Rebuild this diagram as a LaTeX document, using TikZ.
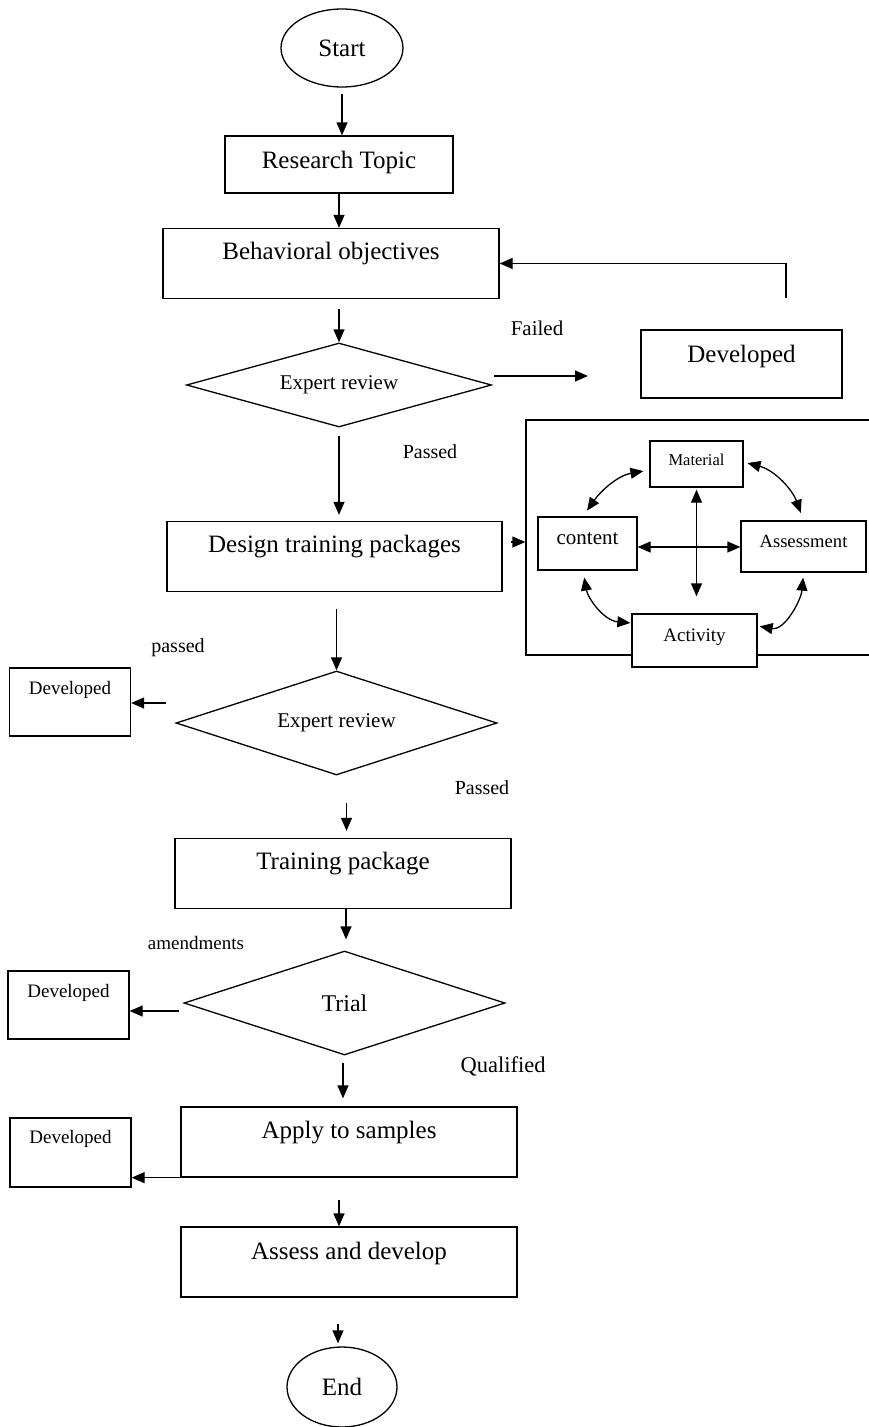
\documentclass[tikz,border=0pt]{standalone}
\usepackage{fontspec}
\setmainfont{Liberation Serif}
\usetikzlibrary{shapes.geometric,arrows.meta}

\newcommand{\fs}[1]{\fontsize{#1}{#1}\selectfont}

\begin{document}
\begin{tikzpicture}[x=1pt, y=1pt, line width=1.3pt,
  box/.style={draw, rectangle, fill=white, inner sep=0pt},
  bigbox/.style={box, font=\fs{25}, text height=31pt, text depth=39pt},
  smallbox/.style={box, font=\fs{19}, minimum width=121pt, text height=26pt, text depth=42pt},
  term/.style={draw, ellipse, inner sep=0pt, font=\fs{25}},
  decide/.style={draw, diamond, aspect=3, inner sep=0pt},
  lbl/.style={inner sep=0pt},
  arr/.style={-{Triangle[length=13pt,width=11pt]}},
  dbl/.style={{Triangle[length=13pt,width=11pt]}-{Triangle[length=13pt,width=11pt]}}]
\useasboundingbox (0,0) rectangle (869,-1427);

% Draw main column
\node[term, minimum width=122pt, minimum height=78pt] (start) at (342,-48) {Start};
\node[box, font=\fs{25}, minimum width=228pt, text height=32pt, text depth=25pt] (topic) at (339,-164.5) {Research Topic};
\node[bigbox, minimum width=336pt] (objectives) at (331,-263.5) {Behavioral objectives};
\node[decide, font=\fs{21}, minimum width=305pt, minimum height=84pt] (review1) at (339,-385) {Expert review};
\node[bigbox, minimum width=335pt] (design) at (334.5,-556.5) {Design training packages};
\node[decide, font=\fs{21}, minimum width=321pt, minimum height=104pt] (review2) at (336.5,-723) {Expert review};
\node[bigbox, minimum width=336pt] (package) at (343,-873.5) {Training package};
\node[decide, font=\fs{24}, minimum width=321pt, minimum height=104pt] (trial) at (344.5,-1003) {Trial};
\node[bigbox, minimum width=336pt] (apply) at (349,-1142) {Apply to samples};
\node[bigbox, minimum width=336pt, text height=32pt, text depth=38pt] (develop) at (349,-1262) {Assess and develop};
\node[term, minimum width=110pt, minimum height=80pt] (finish) at (342,-1387) {End};

% Draw side boxes
\node[box, font=\fs{25}, minimum width=201pt, text height=32pt, text depth=36pt] (dev1) at (741.5,-364) {Developed};
\node[smallbox] (dev2) at (70,-702) {Developed};
\node[smallbox] (dev3) at (68.5,-1005) {Developed};
\node[smallbox, text height=25pt, text depth=44pt] (dev4) at (70.5,-1152.5) {Developed};

% Draw package frame and its parts
\node[box, minimum width=360pt, minimum height=235pt] (pack) at (706,-537.5) {};
\node[box, font=\fs{16.5}, minimum width=93pt, text height=24.5pt, text depth=21.5pt] (material) at (696.5,-464) {Material};
\node[box, font=\fs{21}, minimum width=99pt, text height=27.7pt, text depth=25.3pt] (content) at (587.5,-543.5) {content};
\node[box, font=\fs{18.6}, minimum width=125pt, text height=26.5pt, text depth=24.5pt] (assessment) at (803.5,-546.5) {Assessment};
\node[box, font=\fs{19}, minimum width=125pt, text height=27pt, text depth=26pt] (activity) at (694.5,-640.5) {Activity};

% Labels
\node[lbl, font=\fs{21}] (failed) at (537,-328) {Failed};
\node[lbl, font=\fs{20}] (passed1) at (430,-452) {Passed};
\node[lbl, font=\fs{20}] (passed2) at (178,-648) {passed};
\node[lbl, font=\fs{20}] (passed3) at (482,-788) {Passed};
\node[lbl, font=\fs{19}] (amend) at (196,-943) {amendments};
\node[lbl, font=\fs{22.5}] (qualified) at (503,-1066) {Qualified};

% Arrows down the main column
\draw[arr, shorten <=6pt] (start.south) -- (start.south |- topic.north);
\draw[arr] (topic.south) -- (topic.south |- objectives.north);
\draw[arr, shorten <=10pt] (review1.north |- objectives.south) -- (review1.north);
\draw[arr, shorten <=8pt, shorten >=6pt] (review1.south) -- (review1.south |- design.north);
\draw[arr, shorten <=17pt] (review2.north |- design.south) -- (review2.north);
\draw[arr, shorten <=27pt, shorten >=7pt] ([xshift=10pt]review2.south) -- ([xshift=10pt]review2.south |- package.north);
\draw[arr, shorten >=11pt] ([xshift=3pt]package.south) -- ([xshift=3pt]package.south |- trial.north);
\draw[arr, shorten <=7pt, shorten >=8pt] ([xshift=-1.5pt]trial.south) -- ([xshift=-1.5pt]trial.south |- apply.north);
\draw[arr, shorten <=22pt] ([xshift=-10pt]apply.south) -- ([xshift=-10pt]apply.south |- develop.north);
\draw[arr, shorten <=26pt, shorten >=3pt] ([xshift=-11pt]develop.south) -- ([xshift=-11pt]develop.south |- finish.north);

% Failed loop
\coordinate (failtip) at (588,-376);
\coordinate (backfoot) at (786,-298);
\draw[arr, shorten <=2pt] ([yshift=9pt]review1.east) -- (failtip);
\draw[arr] (backfoot) |- (objectives.east);

% Arrows to the Developed boxes
\draw[arr, shorten <=9pt] ([yshift=20pt]review2.west) -- ([yshift=20pt]review2.west -| dev2.east);
\draw[arr, shorten <=4pt] ([yshift=-8pt]trial.west) -- ([yshift=-8pt]trial.west -| dev3.east);
\draw[arr] (apply.south west) -- (apply.south west -| dev4.east);

% Arrows inside the package frame
\draw[arr, shorten <=8pt] ([yshift=14.5pt]design.east) -- ([yshift=14.5pt]design.east -| pack.west);
\draw[dbl, shorten <=2pt, shorten >=17pt] (material.south) -- (material.south |- activity.north);
\draw[dbl] ([yshift=-3.5pt]content.east) -- ([yshift=-3.5pt]content.east -| assessment.west);
\draw[dbl, shorten <=6pt, shorten >=7pt] ([yshift=-6pt]material.west) to[out=190, in=55] ([xshift=-4.5pt]content.north);
\draw[dbl, shorten <=4pt, shorten >=8pt] ([yshift=2pt]material.east) to[out=-15, in=110] (assessment.north);
\draw[dbl, shorten <=7pt, shorten >=1pt] ([xshift=-4.5pt]content.south) to[out=-80, in=175] ([yshift=17.5pt]activity.west);
\draw[dbl, shorten <=5pt, shorten >=2pt] (assessment.south) to[out=-95, in=-10] ([yshift=14.5pt]activity.east);
\end{tikzpicture}
\end{document}
